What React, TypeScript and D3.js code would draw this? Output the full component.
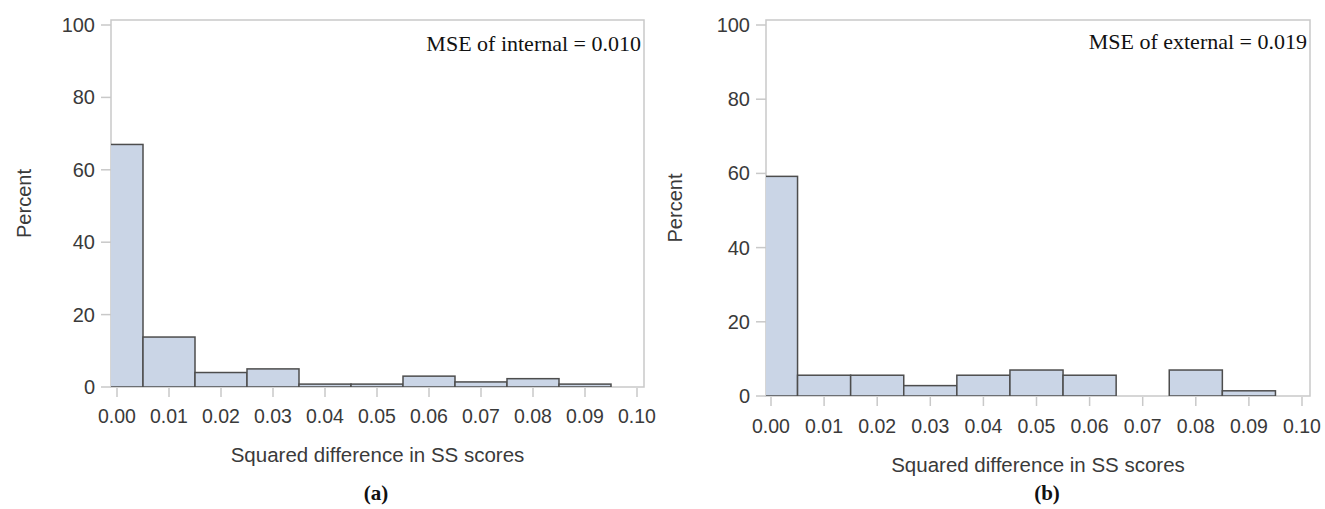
import * as d3 from 'd3'

// bin midpoints of the histogram (width 0.01)
const binMids = [0.0, 0.01, 0.02, 0.03, 0.04, 0.05, 0.06, 0.07, 0.08, 0.09]
const binWidth = 0.01
const internalPct = [67, 13.8, 4, 5, 0.8, 0.8, 3, 1.4, 2.3, 0.8]
const externalPct = [59.2, 5.6, 5.6, 2.8, 5.6, 7.0, 5.6, 0, 7.0, 1.4]
const xTicks = [0, 0.01, 0.02, 0.03, 0.04, 0.05, 0.06, 0.07, 0.08, 0.09, 0.1]
const yTicks = [0, 20, 40, 60, 80, 100]

const panels = [
  {
    id: 'a',
    values: internalPct,
    note: 'MSE of internal = 0.010',
    label: '(a)',
    frame: { left: 111, right: 644, top: 20, bottom: 387 },
    xRange: [117, 637],
    yTop: 25,
    noteY: 51,
    tickLabelY: 423,
    titleY: 462,
    labelX: 376,
    percentX: 31,
  },
  {
    id: 'b',
    values: externalPct,
    note: 'MSE of external = 0.019',
    label: '(b)',
    frame: { left: 766, right: 1310, top: 20, bottom: 396 },
    xRange: [771, 1302],
    yTop: 25,
    noteY: 49,
    tickLabelY: 433,
    titleY: 472,
    labelX: 1047,
    percentX: 682,
  },
]

const sans = 'Liberation Sans, Arial, sans-serif'
const serif = 'Liberation Serif, Times New Roman, serif'
const frameColor = '#c9c9c9'
const textColor = '#3a3a3a'

function Panel({ p }) {
  const { frame } = p
  const x = d3.scaleLinear().domain([0, 0.1]).range(p.xRange)
  const y = d3.scaleLinear().domain([0, 100]).range([frame.bottom, p.yTop])
  const data = binMids.map((m, i) => ({ m, v: p.values[i] })).filter(d => d.v > 0)
  const clipId = `clip-${p.id}`
  const cx = (frame.left + frame.right) / 2
  const cy = (frame.top + frame.bottom) / 2

  return (
    <g>
      <defs>
        <clipPath id={clipId}>
          <rect x={frame.left} y={frame.top} width={frame.right - frame.left} height={frame.bottom - frame.top} />
        </clipPath>
      </defs>
      <rect
        x={frame.left}
        y={frame.top}
        width={frame.right - frame.left}
        height={frame.bottom - frame.top}
        fill="#fff"
        stroke={frameColor}
        strokeWidth={1.5}
      />
      <g clipPath={`url(#${clipId})`}>
        {data.map(d => (
          <rect
            key={d.m}
            x={x(d.m - binWidth / 2)}
            width={x(d.m + binWidth / 2) - x(d.m - binWidth / 2)}
            y={y(d.v)}
            height={y(0) - y(d.v)}
            fill="#cad5e6"
            stroke="#4d4d4d"
            strokeWidth={1.5}
          />
        ))}
      </g>
      {/* y axis */}
      {yTicks.map(t => (
        <g key={t}>
          <line x1={frame.left - 10} x2={frame.left} y1={y(t)} y2={y(t)} stroke={frameColor} strokeWidth={1.5} />
          <text
            x={frame.left - 16}
            y={y(t)}
            dy="0.35em"
            textAnchor="end"
            fontFamily={sans}
            fontSize={20}
            fill={textColor}
          >
            {t}
          </text>
        </g>
      ))}
      {/* x axis */}
      {xTicks.map(t => (
        <g key={t}>
          <line x1={x(t)} x2={x(t)} y1={frame.bottom + 1} y2={frame.bottom + 10} stroke={frameColor} strokeWidth={1.5} />
          <text x={x(t)} y={p.tickLabelY} textAnchor="middle" fontFamily={sans} fontSize={19.5} fill={textColor}>
            {d3.format('.2f')(t)}
          </text>
        </g>
      ))}
      <text
        transform={`translate(${p.percentX},${cy}) rotate(-90)`}
        textAnchor="middle"
        fontFamily={sans}
        fontSize={20}
        fill={textColor}
      >
        Percent
      </text>
      <text x={cx} y={p.titleY} textAnchor="middle" fontFamily={sans} fontSize={20.5} fill={textColor}>
        Squared difference in SS scores
      </text>
      <text x={frame.right - 3} y={p.noteY} textAnchor="end" fontFamily={serif} fontSize={22} fill="#111">
        {p.note}
      </text>
      <text x={p.labelX} y={500} textAnchor="middle" fontFamily={serif} fontWeight="bold" fontSize={21} fill="#111">
        {p.label}
      </text>
    </g>
  )
}

export default function App() {
  return (
    <svg
      width={1325}
      height={509}
      viewBox="0 0 1325 509"
      style={{ position: 'absolute', left: 0, top: 0, background: '#fff' }}
    >
      {panels.map(p => (
        <Panel key={p.id} p={p} />
      ))}
    </svg>
  )
}
